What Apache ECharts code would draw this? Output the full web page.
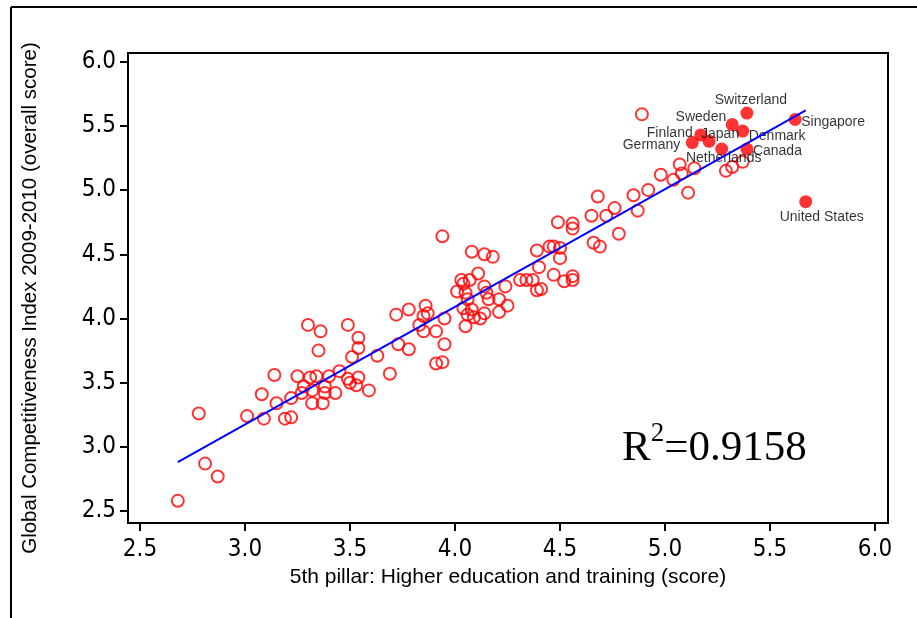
<!DOCTYPE html>
<html>
<head>
<meta charset="utf-8">
<script src="https://cdn.jsdelivr.net/npm/echarts@6/dist/echarts.min.js"></script>
<style>
html,body{margin:0;padding:0;background:#fff;}
#chart{width:917px;height:618px;}
</style>
</head>
<body>
<div id="chart"></div>
<script>
// ---- data ----
const tickValues = [2.5, 3.0, 3.5, 4.0, 4.5, 5.0, 5.5, 6.0];

const otherX = [2.68,2.78,2.81,2.87,3.01,3.09,3.08,3.15,3.19,3.22,3.22,3.14,3.25,3.31,3.34,3.40,3.45,3.28,3.32,3.38,
  3.38,3.43,3.27,3.32,3.37,3.49,3.50,3.54,3.53,3.59,3.69,3.30,3.36,3.35,3.49,3.54,3.54,3.51,3.63,3.73,
  3.78,3.78,3.72,3.86,3.87,3.85,3.83,3.85,3.91,3.95,3.95,3.91,3.94,4.01,4.04,3.94,4.08,4.14,4.18,4.11,
  4.03,4.07,4.14,4.05,4.06,4.15,4.16,4.21,4.24,4.25,4.21,4.14,4.04,4.08,4.06,4.09,4.12,4.05,4.31,4.34,
  4.37,4.39,4.41,4.40,4.39,4.45,4.47,4.50,4.50,4.47,4.52,4.56,4.56,4.49,4.56,4.56,4.65,4.66,4.69,4.72,
  4.76,4.68,4.78,4.87,4.85,4.92,4.89,4.98,5.04,5.07,5.08,5.14,5.11,5.29,5.32,5.37];
const otherY = [2.58,3.26,2.87,2.77,3.24,3.22,3.41,3.34,3.22,3.23,3.38,3.56,3.55,3.54,3.55,3.55,3.59,3.47,3.44,3.47,
  3.42,3.42,3.42,3.34,3.34,3.53,3.50,3.54,3.48,3.44,3.57,3.95,3.90,3.75,3.95,3.85,3.77,3.70,3.71,3.80,
  3.76,4.07,4.03,4.10,4.04,4.02,3.95,3.90,3.90,4.00,3.80,3.65,3.66,4.21,4.27,4.64,4.52,4.50,4.48,4.35,
  4.30,4.30,4.25,4.20,4.15,4.20,4.15,4.15,4.25,4.10,4.05,4.04,4.08,4.07,4.03,4.01,4.00,3.94,4.30,4.30,
  4.30,4.22,4.23,4.40,4.53,4.56,4.56,4.55,4.47,4.34,4.29,4.30,4.33,4.75,4.74,4.70,4.80,4.59,4.56,4.80,
  4.86,4.95,4.66,4.84,4.96,5.00,5.59,5.12,5.08,5.20,5.13,5.17,4.98,5.15,5.18,5.22];

const namedCountries = ["Switzerland","Sweden","Singapore","Denmark","Finland","Japan","Germany","Netherlands","Canada","United States"];
const namedX = [5.39,5.32,5.62,5.37,5.17,5.21,5.13,5.27,5.39,5.67];
const namedY = [5.60,5.51,5.55,5.46,5.43,5.38,5.37,5.32,5.32,4.91];

const r2Text = "0.9158";
const xTitle = "5th pillar: Higher education and training (score)";
const yTitle = "Global Competitiveness Index 2009-2010 (overall score)";

// ---- label placement (style only) ----
const labelPlace = {
  "Switzerland":   {offset:[4,-13],  align:"center"},
  "Sweden":        {offset:[-6,-7],  align:"right"},
  "Singapore":     {offset:[6,3],    align:"left"},
  "Denmark":       {offset:[6,5],    align:"left"},
  "Finland":       {offset:[-8,-2],  align:"right"},
  "Japan":         {offset:[11,-7],  align:"center"},
  "Germany":       {offset:[-12,3],  align:"right"},
  "Netherlands":   {offset:[2,9],    align:"center"},
  "Canada":        {offset:[6,2],    align:"left"},
  "United States": {offset:[16,15],  align:"center"}
};

// ---- least squares fit over all countries ----
const allX = otherX.concat(namedX), allY = otherY.concat(namedY);
const n = allX.length;
const mx = allX.reduce((a,b)=>a+b,0)/n, my = allY.reduce((a,b)=>a+b,0)/n;
let sxy = 0, sxx = 0;
for (let i=0;i<n;i++){ sxy += (allX[i]-mx)*(allY[i]-my); sxx += (allX[i]-mx)*(allX[i]-mx); }
const slope = sxy/sxx, intercept = my - slope*mx;
const xLo = Math.min(...allX), xHi = Math.max(...allX);
const fitData = [[xLo, intercept+slope*xLo],[xHi, intercept+slope*xHi]];

const tickFont = '"Liberation Sans Narrow","Arial Narrow","DejaVu Sans Condensed",sans-serif';
const textFont = '"Liberation Sans",Arial,sans-serif';
const serifFont = '"Liberation Serif","Times New Roman",serif';

const chart = echarts.init(document.getElementById('chart'), null, {renderer:'canvas'});
chart.setOption({
  animation: false,
  backgroundColor: '#fff',
  grid: {left:128, right:29, top:53, bottom:95, show:true, borderColor:'#000', borderWidth:2, backgroundColor:'transparent'},
  xAxis: {
    type:'value', min:2.4429, max:6.0619,
    splitLine:{show:false},
    axisLine:{show:true, lineStyle:{color:'#000', width:2}},
    axisTick:{show:true, customValues:tickValues, length:8, inside:false, lineStyle:{color:'#000', width:2}},
    axisLabel:{customValues:tickValues, formatter:v=>Number(v).toFixed(1), color:'#000', fontFamily:tickFont, fontSize:24, margin:15},
    name:xTitle, nameLocation:'middle', nameGap:44,
    nameTextStyle:{color:'#000', fontFamily:textFont, fontSize:21}
  },
  yAxis: {
    type:'value', min:2.4073, max:6.0678,
    splitLine:{show:false},
    axisLine:{show:true, lineStyle:{color:'#000', width:2}},
    axisTick:{show:true, customValues:tickValues, length:8, inside:false, lineStyle:{color:'#000', width:2}},
    axisLabel:{customValues:tickValues, formatter:v=>Number(v).toFixed(1), color:'#000', fontFamily:tickFont, fontSize:24, margin:12},
    name:yTitle, nameLocation:'middle', nameGap:87,
    nameTextStyle:{color:'#000', fontFamily:textFont, fontSize:20.5, padding:[0,20,0,0]}
  },
  series: [
    {
      type:'scatter', name:'others',
      data: otherX.map((x,i)=>[x, otherY[i]]),
      symbol:'circle', symbolSize:12,
      itemStyle:{color:'rgba(0,0,0,0)', borderColor:'#ff0000', borderWidth:2},
      z:2
    },
    {
      type:'scatter', name:'named',
      data: namedCountries.map((nm,i)=>({
        name:nm, value:[namedX[i], namedY[i]],
        label:{show:true, position:'inside', formatter:nm, offset:labelPlace[nm].offset, align:labelPlace[nm].align, verticalAlign:'middle',
               color:'#000', fontFamily:textFont, fontSize:14}
      })),
      symbol:'circle', symbolSize:13,
      itemStyle:{color:'#ff0000'},
      z:3
    },
    {
      type:'line', name:'fit', data:fitData, showSymbol:false, symbol:'none',
      lineStyle:{color:'#0000ff', width:2}, z:4, silent:true
    }
  ],
  graphic: [
    {type:'line', shape:{x1:11, y1:7, x2:917, y2:7}, style:{stroke:'#000', lineWidth:2}},
    {type:'line', shape:{x1:11, y1:7, x2:11, y2:618}, style:{stroke:'#000', lineWidth:2}},
    {type:'text', left:622, top:420, style:{
      text:'{a|R}{b|2}{a|=' + r2Text + '}',
      rich:{
        a:{fontFamily:serifFont, fontSize:43, fill:'#000', verticalAlign:'bottom', lineHeight:50},
        b:{fontFamily:serifFont, fontSize:27, fill:'#000', verticalAlign:'top', lineHeight:30}
      }
    }}
  ]
});
</script>
</body>
</html>
